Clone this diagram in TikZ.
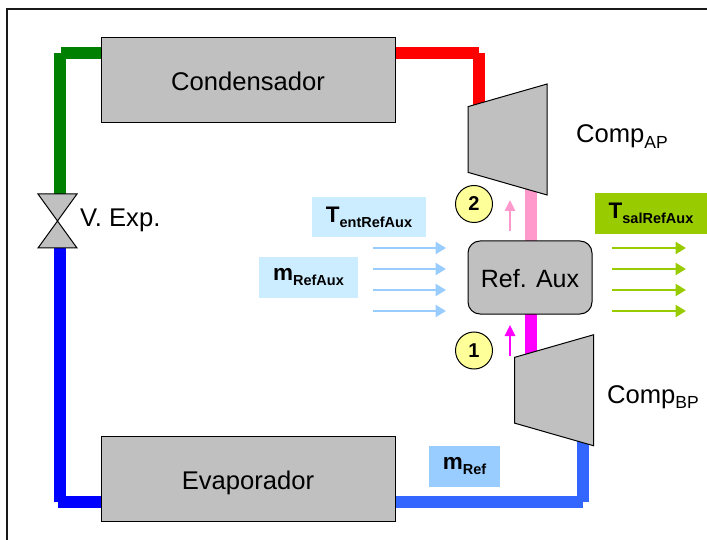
\documentclass[tikz,border=0pt]{standalone}
\usepackage{fontspec}
\setmainfont{Liberation Sans}
\usepackage{xcolor}
\usetikzlibrary{positioning,arrows.meta,shapes.geometric,backgrounds}
\definecolor{unit}{RGB}{192,192,192}
\definecolor{pipegreen}{RGB}{0,128,0}
\definecolor{pipeblue}{RGB}{0,0,255}
\definecolor{pipelow}{RGB}{51,102,255}
\definecolor{pipepink}{RGB}{255,153,204}
\definecolor{pipemag}{RGB}{255,0,255}
\definecolor{tagpale}{RGB}{204,236,255}
\definecolor{tagblue}{RGB}{153,204,255}
\definecolor{taggreen}{RGB}{153,204,0}
\definecolor{dotfill}{RGB}{255,255,153}
\newcommand{\low}[1]{\raisebox{-5.5pt}{\fontsize{17.5}{18}\selectfont #1}}
\newcommand{\lowb}[1]{\raisebox{-5pt}{\fontsize{14.5}{15}\selectfont\bfseries #1}}

\begin{document}
\begin{tikzpicture}[
  x=1pt,y=-1pt,
  unitbox/.style={draw=black,fill=unit,line width=1pt,outer sep=0pt,minimum height=85pt,minimum width=294pt,
              text height=21pt,text depth=0pt,font=\fontsize{25.6}{26}\selectfont},
  comp/.style={draw=black,fill=unit,line width=1pt,outer sep=0pt,trapezium,trapezium stretches=true,
              trapezium angle=71,shape border rotate=90,minimum width=111pt,minimum height=79pt},
  valve/.style={draw=black,fill=unit,line width=1pt,outer sep=0pt,inner sep=0pt,isosceles triangle,
              isosceles triangle stretches=true,isosceles triangle apex angle=72,minimum width=39pt,minimum height=27pt,anchor=apex},
  tag/.style={fill=#1,inner sep=0pt,font=\fontsize{22.5}{23}\selectfont\bfseries},
  txt/.style={inner sep=0pt,anchor=base west,font=\fontsize{25.6}{26}\selectfont},
  dot/.style={circle,draw=black,fill=dotfill,line width=1pt,minimum size=37pt,inner sep=0pt,
              font=\fontsize{20}{21}\selectfont\bfseries},
  pipe/.style={line width=12pt},
  ar/.style={line width=2.5pt,-{Triangle[length=10.5pt,width=12pt]}},
  arup/.style={line width=1.5pt,-{Triangle[length=11pt,width=10.5pt]}}
]
\useasboundingbox (0,0) rectangle (707,540);
\coordinate (fa) at (7,540); \coordinate (fb) at (7,9); \coordinate (fc) at (707,9);
\draw[line width=1.3pt,draw=black!90] (fa)--(fb)--(fc);

\node[unitbox] (cond) at (248,80.5) {Condensador};
\node[unitbox,below=313.5pt of cond] (evap) {Evaporador};
\node[draw=black,fill=unit,line width=1pt,outer sep=0pt,rounded corners=12pt,minimum width=124pt,minimum height=73pt,
      text height=20pt,text depth=0pt,font=\fontsize{25}{26}\selectfont] (aux) at (530,277.5) {Ref. Aux};
\node[comp] (compap) at (507.5,139.5) {};
\node[comp] (compbp) at (554,390.25) {};
\node[valve,shape border rotate=270] (vtop) at (57.5,221) {};
\node[valve,shape border rotate=90] (vbot) at (57.5,221) {};

\node[txt] (lexp) at (80,227) {V. Exp.};
\node[txt] (lap) at (576,143) {Comp\low{AP}};
\node[txt] (lbp) at (607,403) {Comp\low{BP}};

\node[tag=tagpale,minimum width=114pt,minimum height=40pt] (tent) at (369,217) {T\lowb{entRefAux}};
\node[tag=tagpale,minimum width=99pt,minimum height=41pt] (maux) at (308.5,277.5) {m\lowb{RefAux}};
\node[tag=taggreen,minimum width=112pt,minimum height=41pt] (tsal) at (651,213.5) {T\lowb{salRefAux}};
\node[tag=tagblue,minimum width=71pt,minimum height=41pt] (mref) at (464.5,466.5) {m\lowb{Ref}};

\node[dot] (two) at (474,204) {2};
\node[dot] (one) at (474,350.5) {1};

\foreach \i/\yy in {1/248,2/269,3/290,4/311}{
  \coordinate (ina\i) at (373,\yy); \coordinate (inb\i) at (446,\yy);
  \coordinate (outa\i) at (612,\yy); \coordinate (outb\i) at (686,\yy);
  \draw[ar,draw=tagblue] (ina\i)--(inb\i);
  \draw[ar,draw=taggreen] (outa\i)--(outb\i);
}
\coordinate (upa) at (510,231); \coordinate (upb) at (510,200);
\coordinate (upc) at (510,356); \coordinate (upd) at (510,325);
\draw[arup,draw=pipepink] (upa)--(upb);
\draw[arup,draw=pipemag] (upc)--(upd);

\begin{scope}[on background layer]
\coordinate (gr) at (101,53); \coordinate (gh) at (61,53);
\coordinate (gt) at (60,53); \coordinate (gb) at (60,194);
\draw[pipe,draw=pipegreen] (gr)--(gh);
\draw[pipe,draw=pipegreen] (gt)--(gb);
\coordinate (rl) at (395,53); \coordinate (rh) at (479,53);
\coordinate (rt) at (479,53); \coordinate (rb) at (479,115);
\draw[pipe,draw=red] (rl)--(rh);
\draw[pipe,draw=red] (rt)--(rb);
\coordinate (bt) at (60,248); \coordinate (bb) at (60,502);
\coordinate (bh) at (58,502); \coordinate (br) at (101,502);
\draw[pipe,draw=pipeblue] (bt)--(bb);
\draw[pipe,draw=pipeblue] (bh)--(br);
\coordinate (ll) at (395,502); \coordinate (lh) at (583,502);
\coordinate (lb) at (583,502); \coordinate (lt) at (583,435);
\draw[pipe,draw=pipelow] (ll)--(lh);
\draw[pipe,draw=pipelow] (lb)--(lt);
\coordinate (pa) at (531,185); \coordinate (pb) at (531,241);
\coordinate (ma) at (531,314); \coordinate (mb) at (531,370);
\draw[pipe,draw=pipepink] (pa)--(pb);
\draw[pipe,draw=pipemag] (ma)--(mb);
\end{scope}
\end{tikzpicture}
\end{document}
